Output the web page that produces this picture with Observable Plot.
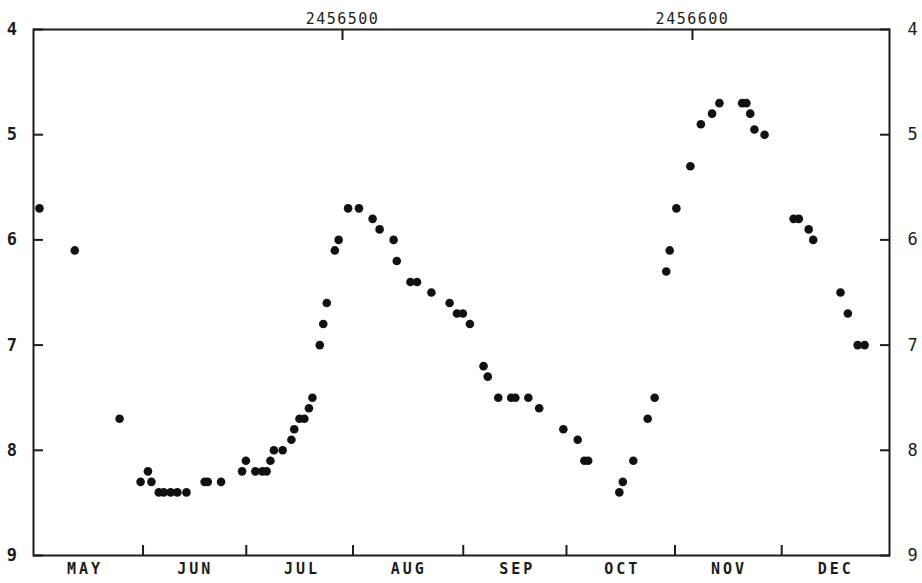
<!DOCTYPE html>
<html>
<head>
<meta charset="utf-8">
<script src="https://cdn.jsdelivr.net/npm/d3@7"></script>
<script src="https://cdn.jsdelivr.net/npm/@observablehq/plot@0.6"></script>
<style>
  html, body { margin: 0; padding: 0; background: #fff; }
  #chart svg text { letter-spacing: 1.5px; }
  #chart svg g.months text { letter-spacing: 3px; }
</style>
</head>
<body>
<div id="chart"></div>
<script>
// Julian dates of observations
const jd = [
  2456413.4, 2456423.5, 2456436.3, 2456442.3, 2456444.4, 2456445.4, 2456447.5, 2456448.9,
  2456450.9, 2456452.8, 2456455.4, 2456460.6, 2456461.5, 2456465.3, 2456471.3, 2456472.4,
  2456475.1, 2456477.1, 2456478.3, 2456479.4, 2456480.4, 2456482.9, 2456485.4, 2456486.2,
  2456487.7, 2456489.1, 2456490.4, 2456491.4, 2456493.5, 2456494.5, 2456495.5, 2456497.8,
  2456498.9, 2456501.6, 2456504.7, 2456508.6, 2456510.6, 2456514.6, 2456515.5, 2456519.4,
  2456521.3, 2456525.4, 2456530.6, 2456532.7, 2456534.4, 2456536.4, 2456540.3, 2456541.5,
  2456544.5, 2456548.2, 2456549.4, 2456553.1, 2456556.2, 2456563.1, 2456567.2, 2456569.1,
  2456570.2, 2456579.1, 2456580.1, 2456583.1, 2456587.2, 2456589.2, 2456592.5, 2456593.5,
  2456595.4, 2456599.4, 2456602.4, 2456605.6, 2456607.7, 2456614.2, 2456615.4, 2456616.5,
  2456617.7, 2456620.6, 2456628.9, 2456630.4, 2456633.2, 2456634.5, 2456642.3, 2456644.4,
  2456647.2, 2456649.2
];
// Visual magnitudes
const mag = [
  5.7, 6.1, 7.7, 8.3, 8.2, 8.3, 8.4, 8.4,
  8.4, 8.4, 8.4, 8.3, 8.3, 8.3, 8.2, 8.1,
  8.2, 8.2, 8.2, 8.1, 8.0, 8.0, 7.9, 7.8,
  7.7, 7.7, 7.6, 7.5, 7.0, 6.8, 6.6, 6.1,
  6.0, 5.7, 5.7, 5.8, 5.9, 6.0, 6.2, 6.4,
  6.4, 6.5, 6.6, 6.7, 6.7, 6.8, 7.2, 7.3,
  7.5, 7.5, 7.5, 7.5, 7.6, 7.8, 7.9, 8.1,
  8.1, 8.4, 8.3, 8.1, 7.7, 7.5, 6.3, 6.1,
  5.7, 5.3, 4.9, 4.8, 4.7, 4.7, 4.7, 4.8,
  4.95, 5.0, 5.8, 5.8, 5.9, 6.0, 6.5, 6.7,
  7.0, 7.0
];
const yTicks = [4, 5, 6, 7, 8, 9];
const jdTicks = [2456500, 2456600];
const monthTicks = [2456443, 2456472.5, 2456503, 2456534.5, 2456564, 2456595, 2456625.5];
const monthNames = ["MAY", "JUN", "JUL", "AUG", "SEP", "OCT", "NOV", "DEC"];
const monthCenters = [2456426, 2456457.5, 2456488, 2456518.5, 2456549.5, 2456579.5, 2456610, 2456640.5];

const obs = jd.map((d, i) => ({jd: d, mag: mag[i]}));
const months = monthNames.map((m, i) => ({name: m, jd: monthCenters[i]}));

const ink = "#1c1c1c";
const fmt = d => String(d);
const chart = Plot.plot({
  width: 922,
  height: 583,
  marginLeft: 33,
  marginRight: 33,
  marginTop: 29,
  marginBottom: 28,
  style: {fontFamily: "'DejaVu Sans Mono', monospace", fontSize: "15px", color: ink, background: "#fff"},
  x: {domain: [2456411.7, 2456656.3], axis: null},
  y: {domain: [4, 9], reverse: true, axis: null, label: null},
  marks: [
    Plot.frame({stroke: ink, strokeWidth: 2}),
    // left axis
    Plot.axisY(yTicks, {anchor: "left", tickSize: 10, insetLeft: 10, fill: "none", stroke: ink, strokeWidth: 2, label: null}),
    Plot.axisY(yTicks, {anchor: "left", tickSize: 0, tickPadding: 15, fill: ink, fontSize: 17, fontWeight: "bold", tickFormat: fmt, label: null}),
    // right axis
    Plot.axisY(yTicks, {anchor: "right", tickSize: 10, insetRight: 10, fill: "none", stroke: ink, strokeWidth: 2, label: null}),
    Plot.axisY(yTicks, {anchor: "right", tickSize: 0, tickPadding: 18, fill: ink, fontSize: 17, tickFormat: fmt, label: null}),
    // top JD axis
    Plot.axisX(jdTicks, {anchor: "top", tickSize: 10, insetTop: 10, fill: "none", stroke: ink, strokeWidth: 2, label: null}),
    Plot.axisX(jdTicks, {anchor: "top", tickSize: 0, tickPadding: 6, fill: ink, fontSize: 15, tickFormat: fmt, label: null}),
    // bottom month ticks
    Plot.axisX(monthTicks, {anchor: "bottom", tickSize: 10, insetBottom: 10, fill: "none", stroke: ink, strokeWidth: 2, label: null}),
    Plot.text(months, {x: "jd", text: "name", frameAnchor: "bottom", dy: 18, dx: 1.5, fill: ink, fontSize: 15, fontWeight: "bold", className: "months"}),
    // observations
    Plot.dot(obs, {x: "jd", y: "mag", r: 4.3, fill: "#111", stroke: "none"})
  ]
});
document.getElementById("chart").appendChild(chart);
</script>
</body>
</html>
